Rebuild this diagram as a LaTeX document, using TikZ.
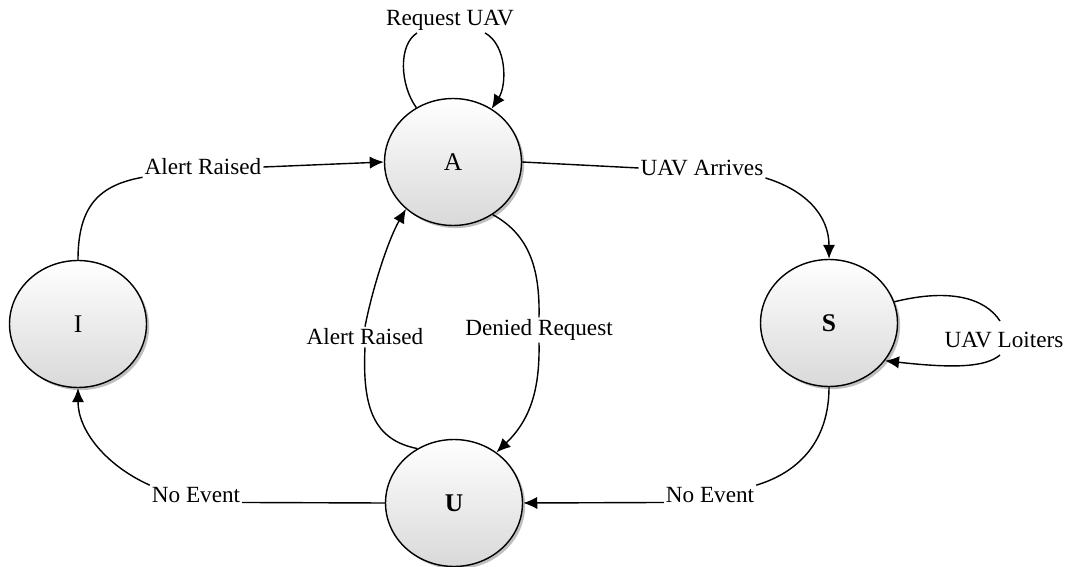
\documentclass[tikz,border=0pt]{standalone}
\usepackage{fontspec}
\setmainfont{Liberation Serif}
\usetikzlibrary{arrows.meta,shapes.geometric,shadows}
\begin{document}
\begin{tikzpicture}[x=0.02cm,y=-0.02cm,
  state/.style={ellipse,draw,line width=0.8pt,minimum width=2.74cm,minimum height=2.54cm,
    top color=white,bottom color=black!15,
    drop shadow={opacity=0.25,shadow xshift=1.5pt,shadow yshift=-1.5pt,fill=black},
    font=\fontsize{14.5}{16}\selectfont},
  lab/.style={inner sep=1pt,font=\fontsize{13.2}{15}\selectfont},
  edge/.style={line width=0.8pt},
  arr/.style={line width=0.8pt,-{Latex[length=8pt,width=7pt]}}]
\useasboundingbox (0,0) rectangle (1071,567);
% states
\node[state] (I) at (78,324) {I};
\node[state] (A) at (453,162) {A};
\node[state] (S) at (829,323) {\textbf{S}};
\node[state] (U) at (454,503) {\textbf{U}};
% labels
\node[lab] (lAI) at (203,167) {Alert Raised};
\node[lab] (lUA) at (702,168) {UAV Arrives};
\node[lab] (lRU) at (450,20) {Request UAV};
\node[lab] (lDR) at (539,330) {Denied Request};
\node[lab] (lAR) at (365,337) {Alert Raised};
\node[lab] (lNE2) at (710,495) {No Event};
\node[lab] (lNE1) at (196,495) {No Event};
\node[lab] (lUL) at (1004,340) {UAV Loiters};
\coordinate (rl) at (417,33);
\coordinate (rr) at (485,33);
\coordinate (ult) at (1000,321);
\coordinate (ulb) at (1000,355);
% I -> A
\draw[edge] (I.north) .. controls (78,205) and (100,185) .. (lAI.south west);
\draw[arr] (lAI.east) -- (A.west);
% A -> S
\draw[edge] (A.east) -- (lUA.west);
\draw[arr] (lUA.south east) .. controls (805,190) and (829,215) .. (S.north);
% A self loop
\draw[edge] (A.124) .. controls (400,85) and (398,45) .. (rl);
\draw[arr] (rr) .. controls (507,45) and (507,85) .. (A.54);
% A -> U
\draw[edge] (A.-53) .. controls (530,235) and (540,270) .. (lDR.north);
\draw[arr] (lDR.south) .. controls (540,390) and (530,420) .. (U.50);
% U -> A
\draw[edge] (U.124) .. controls (375,440) and (362,410) .. (lAR.south);
\draw[arr] (lAR.north) .. controls (372,290) and (388,240) .. (A.-135);
% S -> U
\draw[edge] (S.south) .. controls (829,440) and (800,472) .. (lNE2.north east);
\draw[arr] (lNE2.base west) -- (U.east);
% U -> I
\draw[edge] (U.west) -- (lNE1.base east);
\draw[arr] (lNE1.north west) .. controls (105,465) and (78,430) .. (I.south);
% S self loop
\draw[edge] (S.18) .. controls (950,288) and (985,298) .. (ult);
\draw[arr] (ulb) .. controls (985,368) and (950,368) .. (S.-34);
\end{tikzpicture}
\end{document}
